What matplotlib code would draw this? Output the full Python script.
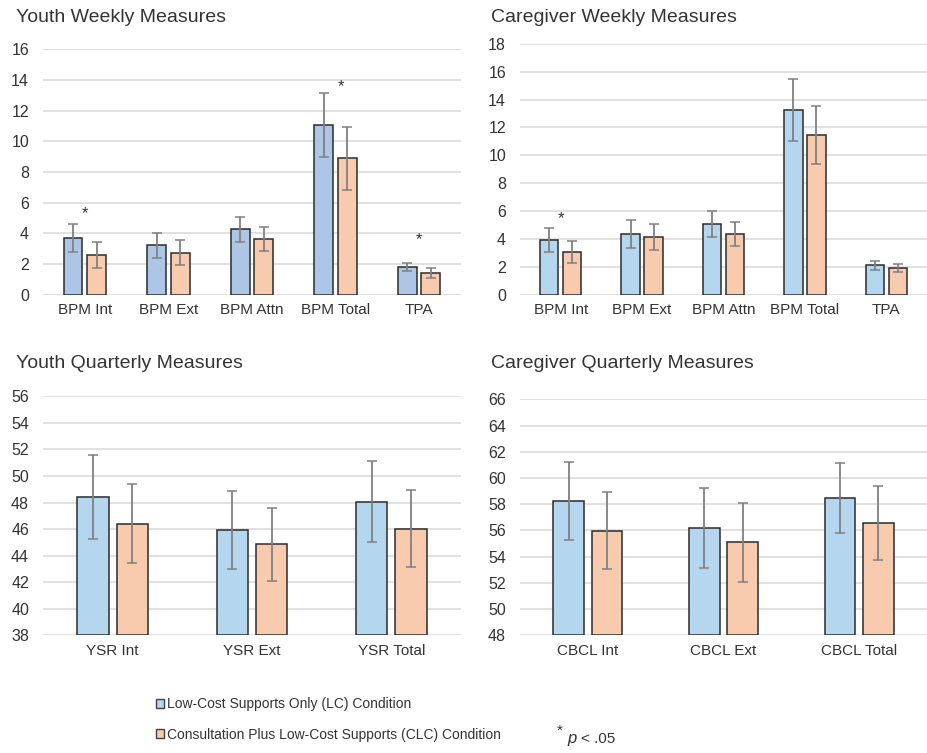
import matplotlib
matplotlib.use('Agg')
import matplotlib.pyplot as plt
from matplotlib.patches import Patch
import numpy as np

plt.rcParams['font.family'] = ['Liberation Sans', 'DejaVu Sans']

# ---- data ----
weekly_cats = ['BPM Int', 'BPM Ext', 'BPM Attn', 'BPM Total', 'TPA']
youth_wk_lc = [3.68, 3.21, 4.28, 11.07, 1.80]
youth_wk_lc_err = [0.90, 0.82, 0.81, 2.06, 0.28]
youth_wk_clc = [2.60, 2.74, 3.63, 8.91, 1.42]
youth_wk_clc_err = [0.85, 0.82, 0.79, 2.05, 0.32]
youth_wk_stars = [(0, 5.3), (3.06, 13.6), (4.0, 3.57)]

care_wk_lc = [3.90, 4.33, 5.09, 13.22, 2.10]
care_wk_lc_err = [0.86, 1.00, 0.94, 2.23, 0.30]
care_wk_clc = [3.06, 4.16, 4.33, 11.47, 1.94]
care_wk_clc_err = [0.81, 0.93, 0.87, 2.08, 0.28]
care_wk_stars = [(0, 5.47)]

ysr_cats = ['YSR Int', 'YSR Ext', 'YSR Total']
ysr_lc = [48.42, 45.93, 48.07]
ysr_lc_err = [3.18, 2.95, 3.05]
ysr_clc = [46.41, 44.85, 46.01]
ysr_clc_err = [3.00, 2.77, 2.90]

cbcl_cats = ['CBCL Int', 'CBCL Ext', 'CBCL Total']
cbcl_lc = [58.22, 56.16, 58.50]
cbcl_lc_err = [2.97, 3.05, 2.67]
cbcl_clc = [55.98, 55.09, 56.54]
cbcl_clc_err = [2.95, 3.00, 2.82]

legend_labels = ['Low-Cost Supports Only (LC) Condition',
                 'Consultation Plus Low-Cost Supports (CLC) Condition']

# ---- style ----
BLUE_YW = '#AEC6E6'
BLUE = '#B4D6EE'
ORANGE = '#F9CBAE'
EDGE = '#2b2b2b'
ERR = '#808080'
GRID = '#D9D9D9'
TXT = '#333333'
W = 0.226
OFF = 0.141


def panel(rect, cats, lc, lc_err, clc, clc_err, ylim, step, blue, stars=()):
    ax = fig.add_axes(rect)
    x = np.arange(len(cats))
    base = ylim[0]
    ax.bar(x - OFF, np.array(lc) - base, W, bottom=base, color=blue, edgecolor=EDGE, linewidth=1.1, zorder=2)
    ax.bar(x + OFF, np.array(clc) - base, W, bottom=base, color=ORANGE, edgecolor=EDGE, linewidth=1.1, zorder=2)
    ax.errorbar(x - OFF, lc, yerr=lc_err, fmt='none', ecolor=ERR, elinewidth=1.3, capsize=3.5, capthick=1.1, zorder=3)
    ax.errorbar(x + OFF, clc, yerr=clc_err, fmt='none', ecolor=ERR, elinewidth=1.3, capsize=3.5, capthick=1.1, zorder=3)
    for sx, sy in stars:
        ax.text(sx, sy, '*', ha='center', va='center', fontsize=12, color=TXT)
    ax.set_xlim(-0.5, len(cats) - 0.5)
    ax.set_ylim(*ylim)
    ax.set_yticks(np.arange(ylim[0], ylim[1] + 0.1, step))
    ax.set_xticks(x)
    ax.set_xticklabels(cats, fontsize=11, color=TXT)
    ax.tick_params(axis='y', length=0, pad=10, labelsize=11.5, labelcolor=TXT)
    ax.tick_params(axis='x', length=0, pad=6)
    ax.grid(axis='y', color=GRID, linewidth=1.1)
    ax.set_axisbelow(True)
    for s in ax.spines.values():
        s.set_visible(False)
    return ax


fig = plt.figure(figsize=(9.28, 7.53), dpi=100)

panel([0.0463, 0.6086, 0.4504, 0.3259], weekly_cats, youth_wk_lc, youth_wk_lc_err,
      youth_wk_clc, youth_wk_clc_err, (0, 16), 2, BLUE_YW, youth_wk_stars)
panel([0.5603, 0.6086, 0.4386, 0.3333], weekly_cats, care_wk_lc, care_wk_lc_err,
      care_wk_clc, care_wk_clc_err, (0, 18), 2, BLUE, care_wk_stars)
panel([0.0463, 0.1563, 0.4504, 0.3174], ysr_cats, ysr_lc, ysr_lc_err,
      ysr_clc, ysr_clc_err, (38, 56), 2, BLUE)
panel([0.5603, 0.1563, 0.4386, 0.3134], cbcl_cats, cbcl_lc, cbcl_lc_err,
      cbcl_clc, cbcl_clc_err, (48, 66), 2, BLUE)

tkw = dict(fontsize=14, color=TXT, va='center', ha='left')
fig.text(16 / 928, 1 - 17 / 753, 'Youth Weekly Measures', **tkw)
fig.text(491 / 928, 1 - 17 / 753, 'Caregiver Weekly Measures', **tkw)
fig.text(16 / 928, 1 - 363 / 753, 'Youth Quarterly Measures', **tkw)
fig.text(491 / 928, 1 - 363 / 753, 'Caregiver Quarterly Measures', **tkw)

handles = [Patch(facecolor=BLUE, edgecolor='#404040', linewidth=1),
           Patch(facecolor=ORANGE, edgecolor='#404040', linewidth=1)]
fig.legend(handles, legend_labels, loc='upper left', bbox_to_anchor=(156 / 928, 1 - 697 / 753),
           frameon=False, fontsize=10, handlelength=0.6, handleheight=0.6,
           handletextpad=0.2, labelspacing=1.2, labelcolor=TXT, borderpad=0, borderaxespad=0)

fig.text(557 / 928, 1 - 731 / 753, '*', fontsize=11, color=TXT, ha='left', va='center')
fig.text(567 / 928, 1 - 743 / 753, 'p', fontsize=12, color=TXT, style='italic', ha='left', va='baseline')
fig.text(581 / 928, 1 - 743 / 753, '< .05', fontsize=11, color=TXT, ha='left', va='baseline')

fig.savefig('out.png', dpi=100)
